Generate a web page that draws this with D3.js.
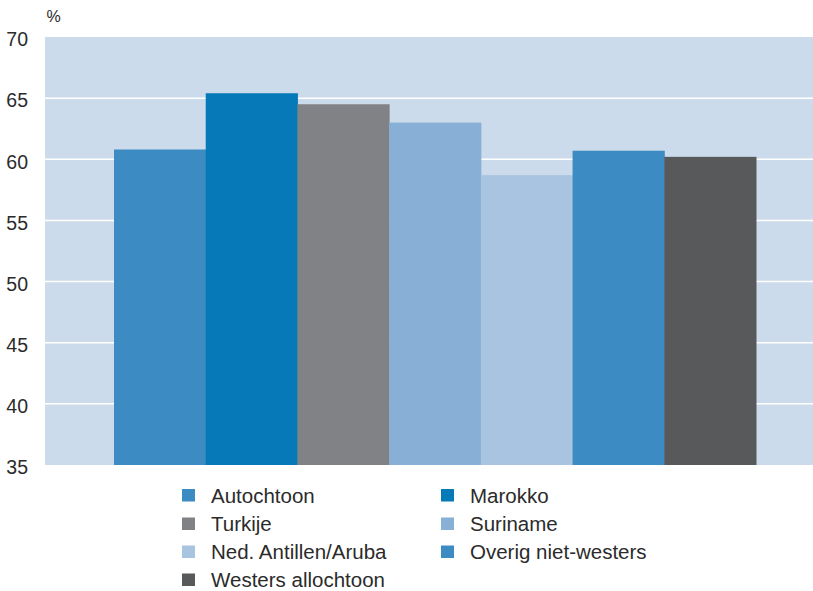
<!DOCTYPE html>
<html>
<head>
<meta charset="utf-8">
<script src="https://cdn.jsdelivr.net/npm/d3@7"></script>
<style>
  html, body { margin: 0; padding: 0; background: #fff; }
  svg { display: block; }
</style>
</head>
<body>
<svg id="chart" width="813" height="591"></svg>
<script>
const categories = ["Autochtoon", "Marokko", "Turkije", "Suriname", "Ned. Antillen/Aruba", "Overig niet-westers", "Westers allochtoon"];
const values = [60.8, 65.4, 64.5, 63.0, 58.7, 60.7, 60.2];
const colors = ["#3d8bc3", "#067ab8", "#818285", "#88afd6", "#a9c4e0", "#3d8bc3", "#58595b"];
const yTicks = [35, 40, 45, 50, 55, 60, 65, 70];
const legendOrder = ["Autochtoon", "Marokko", "Turkije", "Suriname", "Ned. Antillen/Aruba", "Overig niet-westers", "Westers allochtoon"];

const svg = d3.select("#chart");
const plot = { left: 45, right: 813, top: 37, bottom: 465 };

const y = d3.scaleLinear().domain([35, 70]).range([plot.bottom, plot.top]);
const x = d3.scaleBand().domain(categories).range([114, 756]).paddingInner(0).paddingOuter(0);

// background
svg.append("rect")
  .attr("x", plot.left).attr("y", plot.top)
  .attr("width", plot.right - plot.left).attr("height", plot.bottom - plot.top)
  .attr("fill", "#cbdbeb");

// gridlines
svg.append("g").selectAll("line")
  .data(yTicks.filter(t => t > 35 && t < 70))
  .join("line")
  .attr("x1", plot.left).attr("x2", plot.right)
  .attr("y1", d => y(d)).attr("y2", d => y(d))
  .attr("stroke", "#ffffff").attr("stroke-width", 1.5);

// bars
svg.append("g").selectAll("rect")
  .data(categories)
  .join("rect")
  .attr("x", d => x(d))
  .attr("width", x.bandwidth() + 0.5)
  .attr("y", (d, i) => y(values[i]))
  .attr("height", (d, i) => y(35) - y(values[i]))
  .attr("fill", (d, i) => colors[i]);

// y axis labels
const yAxis = d3.axisLeft(y).tickValues(yTicks).tickSize(0).tickPadding(0).tickFormat(d3.format("d"));
const gy = svg.append("g").attr("transform", "translate(28,2)").call(yAxis);
gy.select(".domain").remove();
gy.selectAll(".tick text")
  .attr("font-family", "\"Liberation Sans\", Arial, sans-serif")
  .attr("font-size", 19.5)
  .attr("fill", "#2b2b2b")
  .attr("dy", "0.35em");

// unit label
svg.append("text")
  .attr("x", 46.5).attr("y", 21.5)
  .attr("font-family", "\"Liberation Sans Narrow\", \"Liberation Sans\", Arial, sans-serif")
  .attr("font-size", 16)
  .attr("fill", "#2b2b2b")
  .text("%");

// legend
const legend = svg.append("g");
const colX = [182, 441];
const rowY = [495.5, 524, 552, 580];
legendOrder.forEach((name, i) => {
  const ci = categories.indexOf(name);
  const cx = colX[i % 2];
  const ry = rowY[Math.floor(i / 2)];
  legend.append("rect")
    .attr("x", cx).attr("y", ry - 6.5)
    .attr("width", 13).attr("height", 12.5)
    .attr("fill", colors[ci]);
  legend.append("text")
    .attr("x", cx + 29).attr("y", ry)
    .attr("dy", "0.36em")
    .attr("font-family", "\"Liberation Sans\", Arial, sans-serif")
    .attr("font-size", 20.5)
    .attr("fill", "#2b2b2b")
    .text(name);
});
</script>
</body>
</html>
